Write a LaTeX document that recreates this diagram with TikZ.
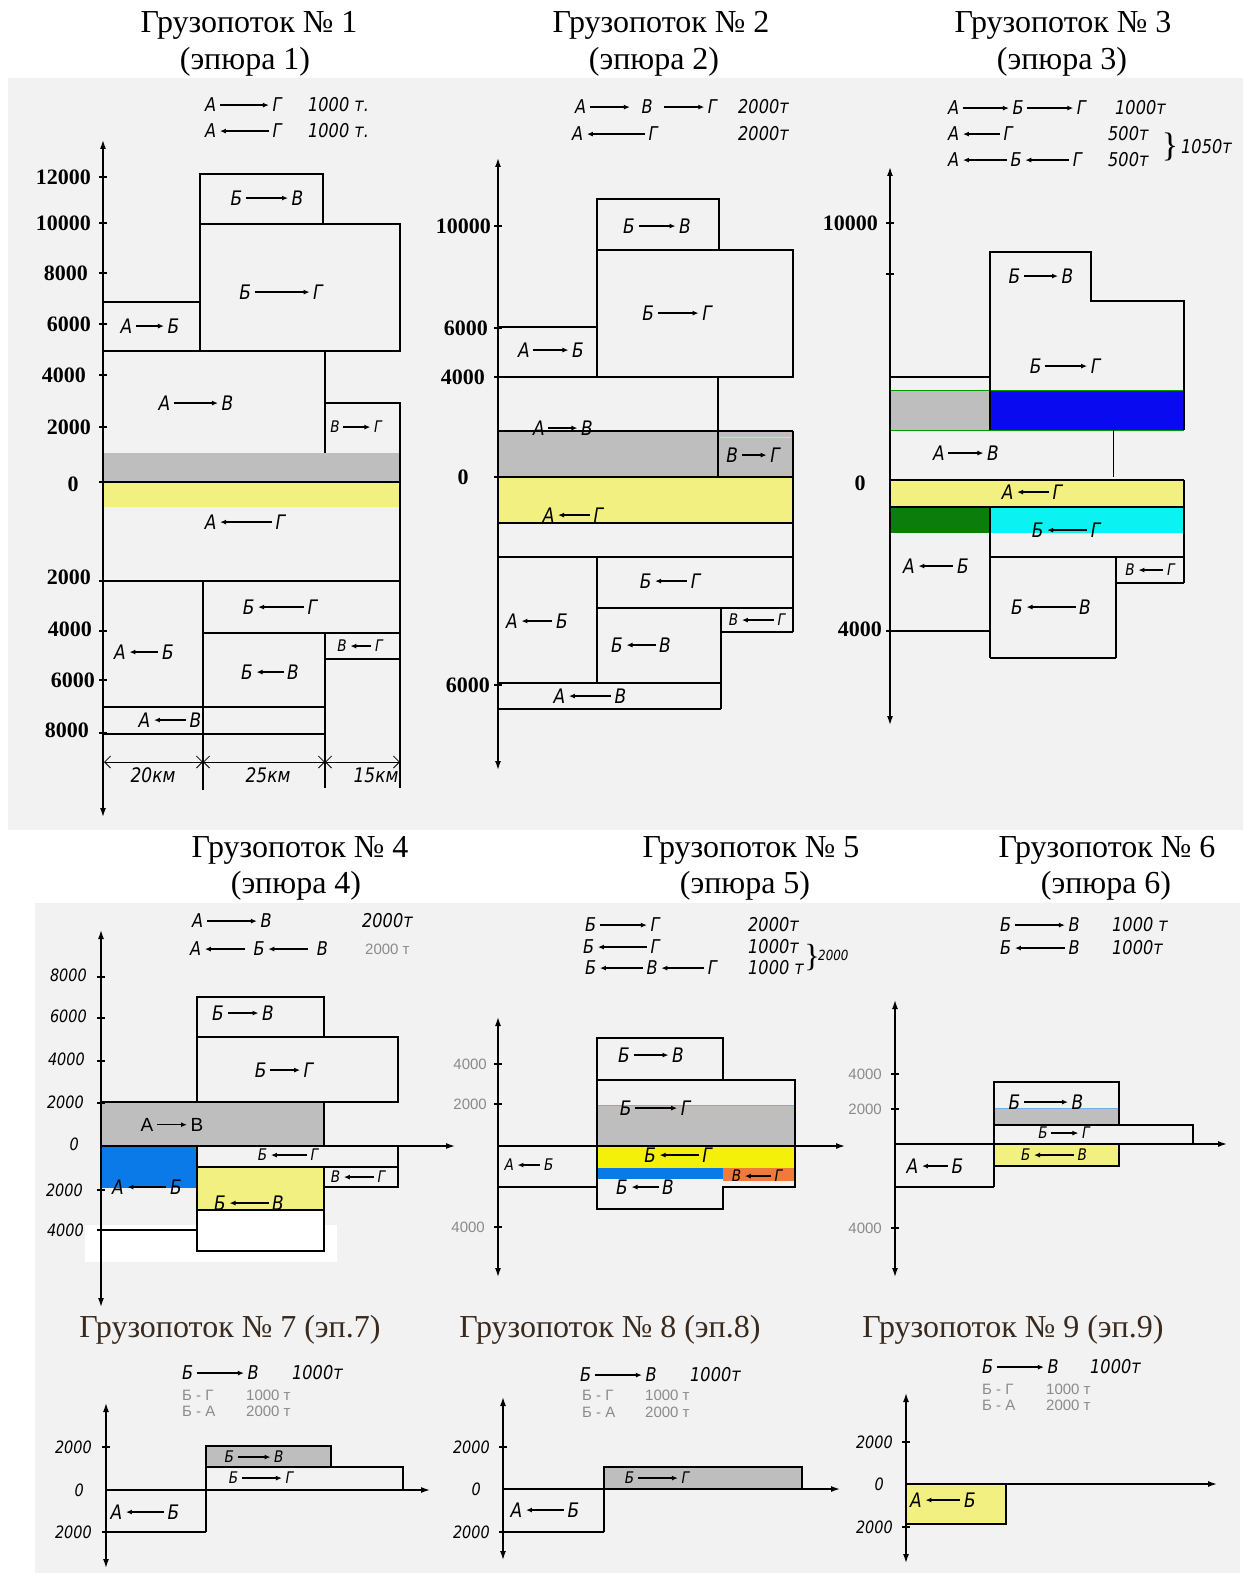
\documentclass[tikz,border=0pt]{standalone}
\usepackage{fontspec}
\usepackage{graphicx}
\setmainfont{Liberation Serif}
\newfontfamily\hwf[FakeStretch=0.85]{DejaVu Sans}
\newfontfamily\sansf{Liberation Sans}
\usetikzlibrary{arrows.meta}
\definecolor{bgg}{HTML}{F2F2F2}
\definecolor{fillg}{HTML}{BEBEBE}
\definecolor{yel}{HTML}{F2F080}
\definecolor{yelb}{HTML}{F5F00A}
\definecolor{blu3}{HTML}{0A0AF0}
\definecolor{grn3}{HTML}{0B7D0B}
\definecolor{cyn3}{HTML}{0AF2F2}
\definecolor{blu4}{HTML}{0A7AE8}
\definecolor{org5}{HTML}{F07A3A}
\definecolor{txg}{HTML}{8A8A8A}
\definecolor{ttlb}{HTML}{3A2A1E}
\newcommand{\myra}[1][22pt]{\hspace{3pt}\tikz[baseline=0pt]\draw[black,line width=1.3pt,-{Latex[length=6pt,width=5pt]}] (0pt,0.36em) -- (#1,0.36em);\hspace{3pt}}
\newcommand{\myla}[1][22pt]{\hspace{3pt}\tikz[baseline=0pt]\draw[black,line width=1.3pt,{Latex[length=6pt,width=5pt]}-] (0pt,0.36em) -- (#1,0.36em);\hspace{3pt}}
\tikzset{
  bx/.style={draw=black,line width=1.2pt},
  ax/.style={draw=black,line width=1.4pt},
  ua/.style={ax,-{Latex[length=9pt,width=6pt]}},
  ba/.style={ax,{Latex[length=9pt,width=6pt]}-{Latex[length=9pt,width=6pt]}},
  lab/.style={font=\hwf\itshape\fontsize{20}{20}\selectfont,inner sep=0pt},
  labs/.style={font=\hwf\itshape\fontsize{16}{16}\selectfont,inner sep=0pt},
  hdr/.style={font=\hwf\itshape\fontsize{19}{19}\selectfont,inner sep=0pt,anchor=west},
  ghdr/.style={font=\sansf\fontsize{15}{15}\selectfont,text=txg,inner sep=0pt,anchor=west},
  tkb/.style={font=\bfseries\fontsize{22}{22}\selectfont,inner sep=0pt,anchor=east},
  tkh/.style={font=\hwf\itshape\fontsize{17}{17}\selectfont,inner sep=0pt,anchor=east},
  tkg/.style={font=\sansf\fontsize{15}{15}\selectfont,text=txg,inner sep=0pt,anchor=east},
  ttl/.style={font=\fontsize{32}{32}\selectfont,inner sep=0pt},
  ttlc/.style={font=\fontsize{32}{32}\selectfont,inner sep=0pt,text=ttlb},
  dim/.style={draw=black,line width=0.8pt,{Straight Barb[length=6pt]}-{Straight Barb[length=6pt]}}
}
\begin{document}
\begin{tikzpicture}[x=1pt,y=-1pt]
\useasboundingbox (0,0) rectangle (1247,1573);
\fill[white] (0,0) rectangle (1247,1573);
\fill[bgg] (8,78) rectangle (1243,830);
\fill[bgg] (35,903) rectangle (1240,1573);

% ---------- titles ----------
\node[ttl] (t1a) at (249,25) {Грузопоток № 1};
\node[ttl] (t1b) at (245,62) {(эпюра 1)};
\node[ttl] (t2a) at (661,25) {Грузопоток № 2};
\node[ttl] (t2b) at (654,62) {(эпюра 2)};
\node[ttl] (t3a) at (1063,25) {Грузопоток № 3};
\node[ttl] (t3b) at (1062,62) {(эпюра 3)};
\node[ttl] (t4a) at (300,850) {Грузопоток № 4};
\node[ttl] (t4b) at (296,886) {(эпюра 4)};
\node[ttl] (t5a) at (751,850) {Грузопоток № 5};
\node[ttl] (t5b) at (745,886) {(эпюра 5)};
\node[ttl] (t6a) at (1107,850) {Грузопоток № 6};
\node[ttl] (t6b) at (1106,886) {(эпюра 6)};
\node[ttlc] (t7) at (230,1330) {Грузопоток № 7 (эп.7)};
\node[ttlc] (t8) at (610,1330) {Грузопоток № 8 (эп.8)};
\node[ttlc] (t9) at (1013,1330) {Грузопоток № 9 (эп.9)};

% ---------- panel 1 ----------
\fill[fillg] (103,453) rectangle (400,482);
\fill[yel] (103,482) rectangle (400,507);
\draw[bx] (200,174) rectangle (323,224);
\draw[bx] (200,224) rectangle (400,351);
\draw[bx] (103,302) rectangle (200,351);
\draw[bx] (103,351) -- (200,351);
\draw[bx] (325,351) -- (325,453);
\draw[bx] (325,403) -- (400,403) -- (400,788);
\draw[ax] (103,482) -- (400,482);
\draw[bx] (103,581) -- (400,581);
\draw[bx] (203,581) -- (203,790);
\draw[bx] (203,633) -- (400,633);
\draw[bx] (325,633) -- (325,788);
\draw[bx] (325,659) -- (400,659);
\draw[bx] (103,707) -- (325,707);
\draw[bx] (103,734) -- (325,734);
\draw[dim] (104,762) -- (203,762);
\draw[dim] (203,762) -- (325,762);
\draw[dim] (325,762) -- (400,762);
\draw[ba] (103,140) -- (103,817);
\foreach \yy in {177,223,273,324,375,427,482,581,631,680,733} \draw[ax] (99,\yy) -- (107,\yy);
\node[tkb] (k1a) at (91,177) {12000};
\node[tkb] (k1b) at (91,223) {10000};
\node[tkb] (k1c) at (88,273) {8000};
\node[tkb] (k1d) at (91,324) {6000};
\node[tkb] (k1e) at (86,375) {4000};
\node[tkb] (k1f) at (91,427) {2000};
\node[tkb,anchor=center] (k1g) at (73,484) {0};
\node[tkb] (k1h) at (91,577) {2000};
\node[tkb] (k1i) at (92,629) {4000};
\node[tkb] (k1j) at (95,680) {6000};
\node[tkb] (k1k) at (89,730) {8000};
\node[hdr] (h1a) at (205,105) {А\myra[49pt]Г};
\node[hdr] (h1b) at (308,105) {1000 т.};
\node[hdr] (h1c) at (205,131) {А\myla[49pt]Г};
\node[hdr] (h1d) at (308,131) {1000 т.};
\node[lab] (p1a) at (267,198) {Б\myra[42pt]В};
\node[lab] (p1b) at (281,292) {Б\myra[55pt]Г};
\node[lab] (p1c) at (150,326) {А\myra[28pt]Б};
\node[lab] (p1d) at (196,403) {А\myra[44pt]В};
\node[labs] (p1e) at (356,427) {В\myra[27pt]Г};
\node[lab] (p1f) at (245,522) {А\myla[52pt]Г};
\node[lab] (p1g) at (280,607) {Б\myla[46pt]Г};
\node[lab] (p1h) at (144,652) {А\myla[29pt]Б};
\node[lab] (p1i) at (270,672) {Б\myla[27pt]В};
\node[labs] (p1j) at (360,646) {В\myla[21pt]Г};
\node[lab] (p1k) at (170,720) {А\myla[32pt]В};
\node[lab] (p1l) at (153,775) {20км};
\node[lab] (p1m) at (268,775) {25км};
\node[lab] (p1n) at (376,775) {15км};

% ---------- panel 2 ----------
\fill[fillg] (498,431) rectangle (793,477);
\fill[yel] (498,477) rectangle (793,523);
\draw[bx] (597,199) rectangle (719,250);
\draw[bx] (597,250) rectangle (793,377);
\draw[bx] (498,327) -- (597,327);
\draw[bx] (498,377) -- (597,377);
\draw[bx] (718,377) -- (718,477);
\draw[bx] (498,431) -- (793,431);
\draw[yelb,line width=1pt] (720,437) -- (791,437);
\draw[bx] (793,431) -- (793,632);
\draw[ax] (498,477) -- (793,477);
\draw[bx] (498,523) -- (793,523);
\draw[bx] (498,557) -- (793,557);
\draw[bx] (597,557) -- (597,683);
\draw[bx] (597,608) -- (793,608);
\draw[bx] (721,608) -- (721,709);
\draw[bx] (721,632) -- (793,632);
\draw[bx] (498,683) -- (721,683);
\draw[bx] (498,709) -- (721,709);
\draw[ba] (498,158) -- (498,770);
\foreach \yy in {226,328,377,477,685} \draw[ax] (494,\yy) -- (502,\yy);
\node[tkb] (k2a) at (491,226) {10000};
\node[tkb] (k2b) at (488,328) {6000};
\node[tkb] (k2c) at (485,377) {4000};
\node[tkb,anchor=center] (k2d) at (463,477) {0};
\node[tkb] (k2e) at (490,685) {6000};
\node[hdr] (h2a) at (575,107) {А\myra[40pt]\hspace{8pt}В\hspace{8pt}\myra[40pt]Г};
\node[hdr] (h2b) at (738,107) {2000т};
\node[hdr] (h2c) at (572,134) {А\myla[58pt]Г};
\node[hdr] (h2d) at (738,134) {2000т};
\node[lab] (p2a) at (657,226) {Б\myra[37pt]В};
\node[lab] (p2b) at (677,313) {Б\myra[41pt]Г};
\node[lab] (p2c) at (551,350) {А\myra[35pt]Б};
\node[lab] (p2d) at (563,428) {А\myra[29pt]В};
\node[lab] (p2e) at (753,455) {В\myra[25pt]Г};
\node[lab] (p2f) at (573,515) {А\myla[32pt]Г};
\node[lab] (p2g) at (670,581) {Б\myla[32pt]Г};
\node[lab] (p2h) at (537,621) {А\myla[31pt]Б};
\node[lab] (p2i) at (641,645) {Б\myla[29pt]В};
\node[labs] (p2j) at (757,620) {В\myla[32pt]Г};
\node[lab] (p2k) at (590,696) {А\myla[42pt]В};

% ---------- panel 3 ----------
\fill[fillg] (890,390) rectangle (990,430);
\fill[blu3] (990,390) rectangle (1184,430);
\fill[yel] (890,480) rectangle (1184,507);
\fill[grn3] (890,507) rectangle (990,533);
\fill[cyn3] (990,507) rectangle (1184,533);
\draw[green!60!black,line width=0.9pt] (890,390) -- (1184,390);
\draw[green!60!black,line width=0.9pt] (890,430) -- (1184,430);
\draw[bx] (990,430) -- (990,252) -- (1091,252) -- (1091,301) -- (1184,301) -- (1184,430);
\draw[bx] (890,377) -- (990,377);
\draw[black,line width=0.7pt] (1113,430) -- (1113,477);
\draw[ax] (890,480) -- (1184,480);
\draw[bx] (1184,480) -- (1184,583);
\draw[bx] (890,507) -- (1184,507);
\draw[bx] (990,507) -- (990,658);
\draw[bx] (990,557) -- (1184,557);
\draw[bx] (1116,557) -- (1116,658);
\draw[bx] (1116,583) -- (1184,583);
\draw[bx] (990,658) -- (1116,658);
\draw[bx] (890,631) -- (990,631);
\draw[ba] (890,167) -- (890,725);
\foreach \yy in {223,274,631} \draw[ax] (886,\yy) -- (894,\yy);
\node[tkb] (k3a) at (878,223) {10000};
\node[tkb,anchor=center] (k3b) at (860,483) {0};
\node[tkb] (k3c) at (882,629) {4000};
\node[hdr] (h3a) at (948,108) {А\myra[46pt]Б\myra[46pt]Г};
\node[hdr] (h3b) at (1115,108) {1000т};
\node[hdr] (h3c) at (948,134) {А\myla[37pt]Г};
\node[hdr] (h3d) at (1108,134) {500т};
\node[hdr] (h3e) at (948,160) {А\myla[44pt]Б\myla[44pt]Г};
\node[hdr] (h3f) at (1108,160) {500т};
\node[font=\fontsize{34}{34}\selectfont,inner sep=0pt] (h3g) at (1170,147) {\}};
\node[hdr] (h3h) at (1181,147) {1050т};
\node[lab] (p3a) at (1041,276) {Б\myra[34pt]В};
\node[lab] (p3b) at (1065,366) {Б\myra[42pt]Г};
\node[lab] (p3c) at (966,453) {А\myra[35pt]В};
\node[lab] (p3d) at (1032,492) {А\myla[32pt]Г};
\node[lab] (p3e) at (1066,530) {Б\myla[40pt]Г};
\node[lab] (p3f) at (936,566) {А\myla[35pt]Б};
\node[labs] (p3g) at (1150,570) {В\myla[25pt]Г};
\node[lab] (p3h) at (1051,607) {Б\myla[49pt]В};

% ---------- panel 4 ----------
\fill[white] (85,1225) rectangle (337,1262);
\fill[fillg] (101,1102) rectangle (324,1146);
\fill[blu4] (101,1146) rectangle (197,1188);
\fill[yel] (197,1167) rectangle (324,1210);
\fill[white] (197,1210) rectangle (324,1251);
\draw[bx] (197,997) rectangle (324,1037);
\draw[bx] (197,1037) rectangle (398,1102);
\draw[bx] (101,1102) -- (324,1102) -- (324,1146);
\draw[bx] (197,1146) -- (197,1251) -- (324,1251) -- (324,1167);
\draw[bx] (197,1167) -- (398,1167);
\draw[bx] (398,1146) -- (398,1187) -- (324,1187);
\draw[bx] (197,1210) -- (324,1210);
\draw[bx] (101,1230) -- (197,1230);
\draw[ba] (101,930) -- (101,1307);
\draw[ua] (101,1146) -- (455,1146);
\foreach \yy in {977,1018,1061,1103,1190,1230} \draw[ax] (97,\yy) -- (105,\yy);
\node[tkh] (k4a) at (87,975) {8000};
\node[tkh] (k4b) at (87,1016) {6000};
\node[tkh] (k4c) at (85,1059) {4000};
\node[tkh] (k4d) at (84,1102) {2000};
\node[tkh] (k4e) at (79,1144) {0};
\node[tkh] (k4f) at (83,1190) {2000};
\node[tkh] (k4g) at (84,1230) {4000};
\node[hdr] (h4a) at (192,921) {А\myra[50pt]В};
\node[hdr] (h4b) at (362,921) {2000т};
\node[hdr] (h4c) at (190,949) {А\myla[40pt]\hspace{5pt}Б\myla[40pt]\hspace{5pt}В};
\node[ghdr] (h4d) at (365,949) {2000 т};
\node[lab] (p4a) at (243,1013) {Б\myra[31pt]В};
\node[lab] (p4b) at (284,1070) {Б\myra[30pt]Г};
\node[font=\sansf\fontsize{19}{19}\selectfont,inner sep=0pt] (p4c) at (172,1125) {А\myra[30pt]В};
\node[labs] (p4d) at (288,1155) {Б\myla[36pt]Г};
\node[labs] (p4e) at (358,1177) {В\myla[30pt]Г};
\node[lab] (p4f) at (147,1187) {А\myla[39pt]Б};
\node[lab] (p4g) at (249,1203) {Б\myla[39pt]В};

% ---------- panel 5 ----------
\fill[fillg] (597,1105) rectangle (795,1146);
\fill[yelb] (597,1146) rectangle (795,1168);
\fill[blu4] (597,1168) rectangle (723,1179);
\fill[org5] (723,1168) rectangle (795,1181);
\draw[blu4!60,line width=0.8pt] (597,1105) -- (795,1105);
\draw[bx] (597,1038) rectangle (723,1080);
\draw[bx] (597,1080) rectangle (795,1146);
\draw[bx] (597,1146) -- (597,1209) -- (723,1209) -- (723,1187) -- (795,1187) -- (795,1146);
\draw[bx] (498,1187) -- (597,1187);
\draw[ba] (498,1017) -- (498,1277);
\draw[ua] (498,1146) -- (845,1146);
\foreach \yy in {1064,1104,1227} \draw[ax] (494,\yy) -- (502,\yy);
\node[tkg] (k5a) at (487,1064) {4000};
\node[tkg] (k5b) at (487,1104) {2000};
\node[tkg] (k5c) at (485,1227) {4000};
\node[hdr] (h5a) at (585,925) {Б\myra[47pt]Г};
\node[hdr] (h5b) at (748,925) {2000т};
\node[hdr] (h5c) at (583,947) {Б\myla[49pt]Г};
\node[hdr] (h5d) at (748,947) {1000т};
\node[hdr] (h5e) at (585,968) {Б\myla[43pt]В\myla[43pt]Г};
\node[hdr] (h5f) at (748,968) {1000 т};
\node[font=\fontsize{32}{32}\selectfont,inner sep=0pt] (h5g) at (812,958) {\}};
\node[hdr,font=\hwf\itshape\fontsize{14}{14}\selectfont] (h5h) at (818,955) {2000};
\node[lab] (p5a) at (651,1055) {Б\myra[35pt]В};
\node[lab] (p5b) at (655,1108) {Б\myra[42pt]Г};
\node[lab] (p5c) at (678,1155) {Б\myla[39pt]Г};
\node[labs] (p5d) at (757,1176) {В\myla[26pt]Г};
\node[lab] (p5e) at (645,1187) {Б\myla[27pt]В};
\node[labs] (p5f) at (529,1165) {А\myla[23pt]Б};

% ---------- panel 6 ----------
\fill[fillg] (994,1108) rectangle (1119,1125);
\fill[yel] (994,1144) rectangle (1119,1166);
\draw[blu4!60,line width=0.8pt] (994,1108) -- (1119,1108);
\draw[bx] (994,1187) -- (994,1082) -- (1119,1082) -- (1119,1125);
\draw[bx] (994,1125) -- (1193,1125) -- (1193,1144);
\draw[bx] (895,1187) -- (994,1187);
\draw[bx] (1119,1144) -- (1119,1166) -- (994,1166);
\draw[ba] (895,1000) -- (895,1277);
\draw[ua] (895,1144) -- (1227,1144);
\foreach \yy in {1074,1109,1228} \draw[ax] (891,\yy) -- (899,\yy);
\node[tkg] (k6a) at (882,1074) {4000};
\node[tkg] (k6b) at (882,1109) {2000};
\node[tkg] (k6c) at (882,1228) {4000};
\node[hdr] (h6a) at (1000,925) {Б\myra[50pt]В};
\node[hdr] (h6b) at (1112,925) {1000 т};
\node[hdr] (h6c) at (1000,948) {Б\myla[50pt]В};
\node[hdr] (h6d) at (1112,948) {1000т};
\node[lab] (p6a) at (1046,1102) {Б\myra[44pt]В};
\node[labs] (p6b) at (1064,1133) {Б\myra[27pt]Г};
\node[labs] (p6c) at (1054,1155) {Б\myla[40pt]В};
\node[lab] (p6d) at (935,1166) {А\myla[26pt]Б};

% ---------- panel 7 ----------
\fill[fillg] (206,1446) rectangle (331,1467);
\draw[bx] (206,1532) -- (206,1446) -- (331,1446) -- (331,1467);
\draw[bx] (206,1467) -- (403,1467) -- (403,1490);
\draw[bx] (106,1532) -- (206,1532);
\draw[ba] (106,1403) -- (106,1568);
\draw[ua] (106,1490) -- (430,1490);
\foreach \yy in {1447,1532} \draw[ax] (102,\yy) -- (110,\yy);
\node[tkh] (k7a) at (92,1447) {2000};
\node[tkh] (k7b) at (84,1490) {0};
\node[tkh] (k7c) at (92,1532) {2000};
\node[hdr] (h7a) at (182,1373) {Б\myra[47pt]В};
\node[hdr] (h7b) at (292,1373) {1000т};
\node[ghdr] (h7c) at (182,1395) {Б - Г};
\node[ghdr] (h7d) at (246,1395) {1000 т};
\node[ghdr] (h7e) at (182,1411) {Б - А};
\node[ghdr] (h7f) at (246,1411) {2000 т};
\node[labs] (p7a) at (254,1457) {Б\myra[33pt]В};
\node[labs] (p7b) at (261,1478) {Б\myra[40pt]Г};
\node[lab] (p7c) at (145,1512) {А\myla[38pt]Б};

% ---------- panel 8 ----------
\fill[fillg] (604,1467) rectangle (802,1489);
\draw[bx] (604,1532) -- (604,1467) -- (802,1467) -- (802,1489);
\draw[bx] (503,1532) -- (604,1532);
\draw[ba] (503,1397) -- (503,1560);
\draw[ua] (503,1489) -- (840,1489);
\foreach \yy in {1447,1532} \draw[ax] (499,\yy) -- (507,\yy);
\node[tkh] (k8a) at (490,1447) {2000};
\node[tkh] (k8b) at (481,1489) {0};
\node[tkh] (k8c) at (490,1532) {2000};
\node[hdr] (h8a) at (580,1375) {Б\myra[47pt]В};
\node[hdr] (h8b) at (690,1375) {1000т};
\node[ghdr] (h8c) at (582,1395) {Б - Г};
\node[ghdr] (h8d) at (645,1395) {1000 т};
\node[ghdr] (h8e) at (582,1412) {Б - А};
\node[ghdr] (h8f) at (645,1412) {2000 т};
\node[labs] (p8a) at (657,1478) {Б\myra[40pt]Г};
\node[lab] (p8b) at (545,1510) {А\myla[38pt]Б};

% ---------- panel 9 ----------
\fill[yel] (906,1484) rectangle (1006,1524);
\draw[bx] (906,1524) -- (1006,1524) -- (1006,1484);
\draw[ba] (906,1393) -- (906,1563);
\draw[ua] (906,1484) -- (1217,1484);
\foreach \yy in {1442,1527} \draw[ax] (902,\yy) -- (910,\yy);
\node[tkh] (k9a) at (893,1442) {2000};
\node[tkh] (k9b) at (884,1484) {0};
\node[tkh] (k9c) at (893,1527) {2000};
\node[hdr] (h9a) at (982,1367) {Б\myra[47pt]В};
\node[hdr] (h9b) at (1090,1367) {1000т};
\node[ghdr] (h9c) at (982,1389) {Б - Г};
\node[ghdr] (h9d) at (1046,1389) {1000 т};
\node[ghdr] (h9e) at (982,1405) {Б - А};
\node[ghdr] (h9f) at (1046,1405) {2000 т};
\node[lab] (p9a) at (943,1500) {А\myla[35pt]Б};
\end{tikzpicture}
\end{document}
